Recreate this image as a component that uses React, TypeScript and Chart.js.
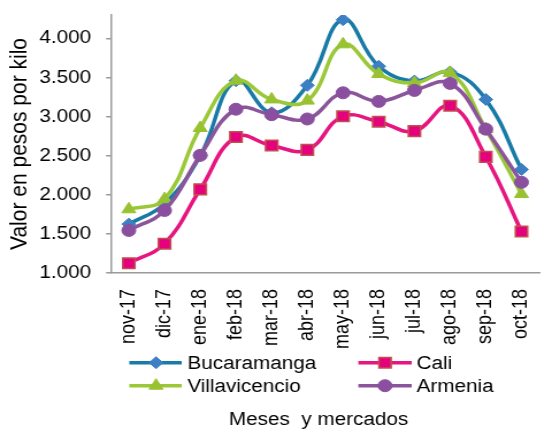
import React, { useEffect, useRef } from 'react';
import { Chart, registerables } from 'chart.js';
import { drawPoint } from 'chart.js/helpers';

Chart.register(...registerables);

const categories = ['nov-17', 'dic-17', 'ene-18', 'feb-18', 'mar-18', 'abr-18', 'may-18', 'jun-18', 'jul-18', 'ago-18', 'sep-18', 'oct-18'];
const bucaramanga = [1625, 1885, 2500, 3460, 3050, 3400, 4240, 3645, 3455, 3570, 3220, 2325];
const cali = [1125, 1375, 2070, 2740, 2630, 2575, 3005, 2935, 2815, 3140, 2485, 1530];
const villavicencio = [1815, 1945, 2855, 3460, 3220, 3205, 3925, 3545, 3430, 3560, 2840, 2010];
const armenia = [1545, 1800, 2505, 3095, 3025, 2970, 3305, 3195, 3335, 3425, 2840, 2160];
const yTicks = [1000, 1500, 2000, 2500, 3000, 3500, 4000];
const yTitle = 'Valor en pesos por kilo';
const xTitle = 'Meses  y mercados';

const SX = 1.15;
const W = 478;
const H = 430;
const FONT = '"Liberation Sans", Arial, sans-serif';

function fmt(v: number) {
  const th = Math.floor(v / 1000);
  const rest = String(Math.round(v % 1000)).padStart(3, '0');
  return th + '.' + rest;
}

const legendPlugin = {
  id: 'customLegend',
  afterDraw(chart: any) {
    const ctx = chart.ctx as CanvasRenderingContext2D;
    const cols = [
      { a: 112.4, b: 158, m: 135.7, t: 162.9 },
      { a: 311.6, b: 358, m: 334.8, t: 362.3 },
    ];
    const rows = [362.7, 385.7];
    ctx.save();
    chart.data.datasets.forEach((ds: any, i: number) => {
      const c = cols[i % 2];
      const y = rows[Math.floor(i / 2)];
      ctx.strokeStyle = ds.borderColor;
      ctx.lineWidth = ds.borderWidth;
      ctx.beginPath();
      ctx.moveTo(c.a, y);
      ctx.lineTo(c.b, y);
      ctx.stroke();
      ctx.fillStyle = ds.pointBackgroundColor;
      ctx.strokeStyle = ds.pointBorderColor;
      ctx.lineWidth = ds.pointBorderWidth;
      drawPoint(ctx, { pointStyle: ds.pointStyle, rotation: 0, radius: ds.pointRadius, borderWidth: ds.pointBorderWidth }, c.m, y);
      ctx.fillStyle = '#000';
      ctx.font = `18px ${FONT}`;
      ctx.textAlign = 'left';
      ctx.textBaseline = 'middle';
      ctx.fillText(ds.label, c.t, y + 1);
    });
    ctx.font = `18px ${FONT}`;
    ctx.fillStyle = '#000';
    ctx.textAlign = 'center';
    ctx.textBaseline = 'middle';
    ctx.fillText(xTitle, 277, 420);
    ctx.restore();
  },
};

export default function App() {
  const ref = useRef<HTMLCanvasElement>(null);
  useEffect(() => {
    const font = { family: FONT, size: 18 };
    const chart = new Chart(ref.current as HTMLCanvasElement, {
      type: 'line',
      data: {
        labels: categories,
        datasets: [
          {
            label: 'Bucaramanga', data: bucaramanga, order: 3,
            borderColor: '#187AA6', borderWidth: 3.5, tension: 0.42,
            pointStyle: 'rectRot', pointRadius: 6, pointBackgroundColor: '#3C7FC3', pointBorderColor: '#3C7FC3', pointBorderWidth: 1,
          },
          {
            label: 'Cali', data: cali, order: 2,
            borderColor: '#E6157F', borderWidth: 3.5, tension: 0.42,
            pointStyle: 'rect', pointRadius: 7.5, pointBackgroundColor: '#E5007E', pointBorderColor: '#C0504D', pointBorderWidth: 1.5,
          },
          {
            label: 'Villavicencio', data: villavicencio, order: 1,
            borderColor: '#9BC838', borderWidth: 3.5, tension: 0.42,
            pointStyle: 'triangle', pointRadius: 7, pointBackgroundColor: '#99C232', pointBorderColor: '#99C232', pointBorderWidth: 1,
          },
          {
            label: 'Armenia', data: armenia, order: 0,
            borderColor: '#8B559B', borderWidth: 3.5, tension: 0.42,
            pointStyle: 'circle', pointRadius: 6, pointBackgroundColor: '#8A4F9E', pointBorderColor: '#8A4F9E', pointBorderWidth: 1,
          },
        ],
      },
      options: {
        responsive: false,
        animation: false,
        layout: { padding: { top: 15, left: 0, right: W - 544 / SX, bottom: 0 } },
        plugins: { legend: { display: false }, tooltip: { enabled: false } },
        scales: {
          x: {
            type: 'category',
            offset: true,
            grid: { display: true, drawOnChartArea: false, drawTicks: false },
            border: { display: true, color: '#9A9A9A', width: 1.5 },
            ticks: { minRotation: 90, maxRotation: 90, autoSkip: false, padding: 16, color: '#000', font },
            afterFit(s: any) { s.height = 157; s.paddingLeft = 0; s.paddingRight = 0; },
          },
          y: {
            min: 1000,
            max: 4300,
            afterBuildTicks(s: any) { s.ticks = yTicks.map((v) => ({ value: v })); },
            grid: { drawOnChartArea: false, drawTicks: true, tickLength: 4.3, color: '#9A9A9A', lineWidth: 1.5 },
            border: { display: true, color: '#9A9A9A', width: 1.5 },
            ticks: { padding: 13, color: '#000', font, callback: (v: any) => fmt(Number(v)) },
            title: { display: true, text: yTitle, color: '#000', font: { family: FONT, size: 21 }, padding: { top: 4.8, bottom: 0 } },
            afterFit(s: any) { s.width = 111 / SX; s.paddingTop = 0; s.paddingBottom = 0; },
          },
        },
      },
      plugins: [legendPlugin],
    } as any);
    return () => chart.destroy();
  }, []);
  return (
    <div style={{ position: 'fixed', left: 0, top: 0, width: 541, height: 430, overflow: 'hidden', background: '#fff' }}>
      <div style={{ width: W, height: H, transform: `scaleX(${SX})`, transformOrigin: '0 0' }}>
        <canvas ref={ref} width={W} height={H} style={{ width: W, height: H, display: 'block' }} />
      </div>
    </div>
  );
}
